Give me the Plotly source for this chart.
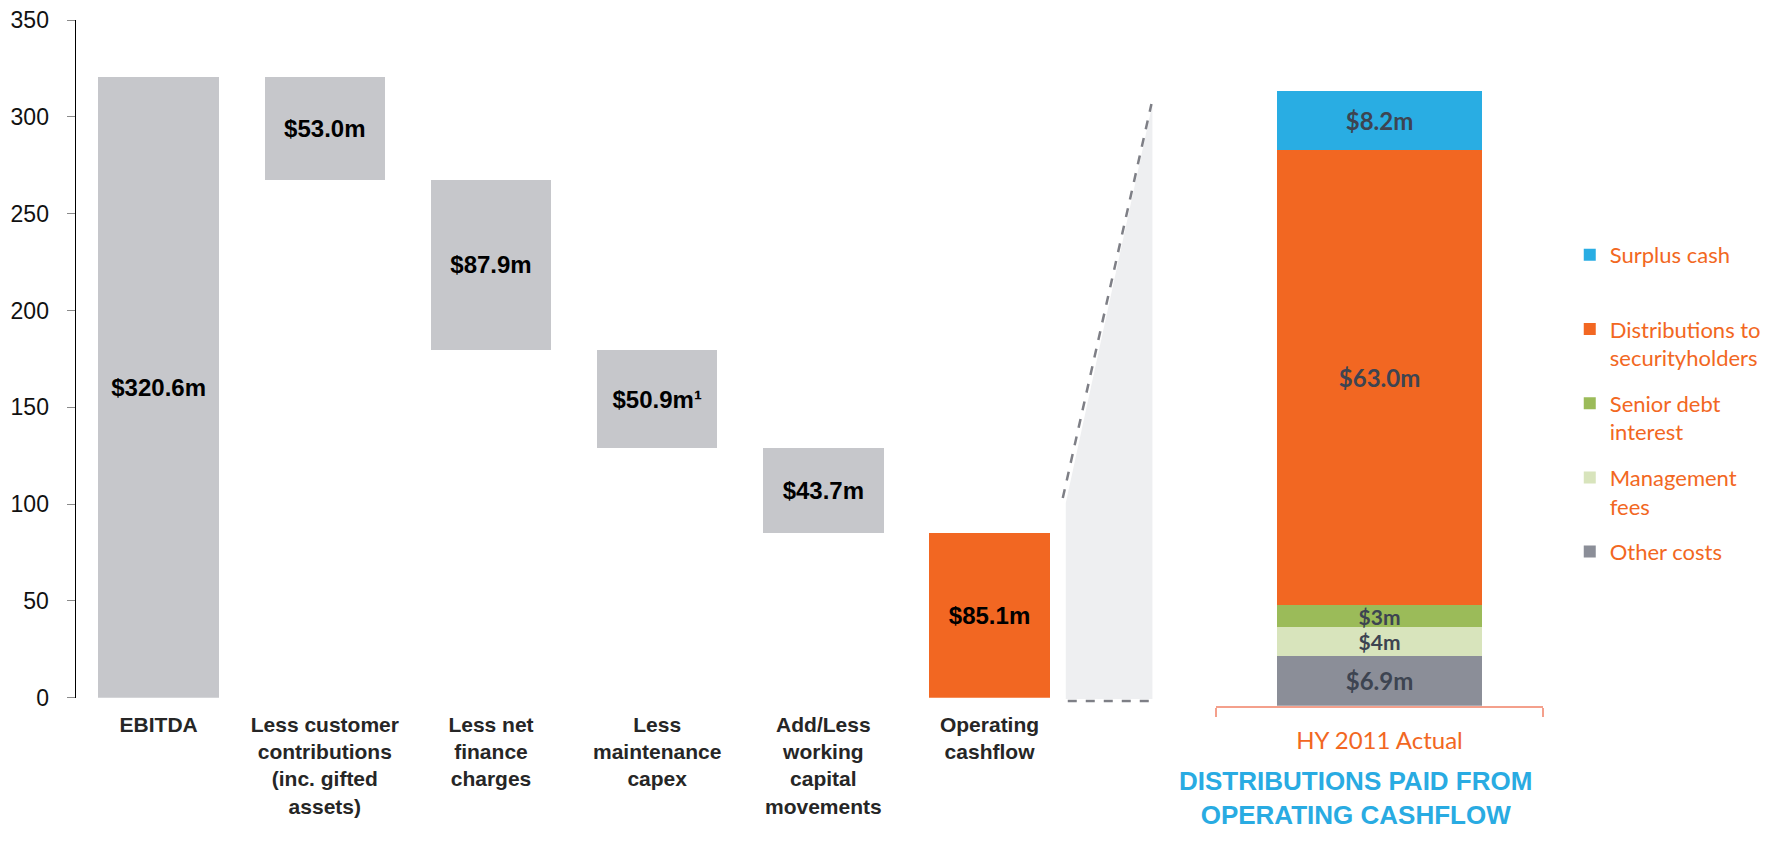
import plotly.graph_objects as go

# ---------------- data ----------------
categories = [
    "EBITDA",
    "Less customer<br>contributions<br>(inc. gifted<br>assets)",
    "Less net<br>finance<br>charges",
    "Less<br>maintenance<br>capex",
    "Add/Less<br>working<br>capital<br>movements",
    "Operating<br>cashflow",
]
values = [320.6, -53.0, -87.9, -50.9, -43.7, 85.1]
kinds = ["total", "delta", "delta", "delta", "delta", "total"]
value_labels = ["$320.6m", "$53.0m", "$87.9m", "$50.9m¹", "$43.7m", "$85.1m"]
y_ticks = [0, 50, 100, 150, 200, 250, 300, 350]

dist_category = ["HY 2011 Actual"]
other_costs = [6.9]
management_fees = [4.0]
senior_debt = [3.0]
distributions = [63.0]
surplus_cash = [8.2]
dist_labels = {
    "other": ["$6.9m"],
    "mgmt": ["$4m"],
    "senior": ["$3m"],
    "dist": ["$63.0m"],
    "surplus": ["$8.2m"],
}
title_lines = ["DISTRIBUTIONS PAID FROM", "OPERATING CASHFLOW"]

# ---------------- styling ----------------
PAGE_W, PAGE_H = 1774, 841
BODY = 8  # default page margin around the figure
W, H = PAGE_W - 2 * BODY, PAGE_H - 2 * BODY
GREY_BAR = "#C6C7CB"
ORANGE = "#F26722"
BLUE = "#29ADE3"
GREEN = "#9BBB59"
LIGHT_GREEN = "#D8E4BC"
SLATE = "#8B8E98"
SALMON = "#F4A08C"
ARIAL = "Liberation Sans, Arial, sans-serif"
CALIBRI = "Lato, Open Sans, sans-serif"


def fx(px):
    return (px - BODY) / W


def fy(py):
    return 1 - (py - BODY) / H


# waterfall bases from the values
bases, heights, colors = [], [], []
running = 0.0
for i, (v, k) in enumerate(zip(values, kinds)):
    if k == "total":
        bases.append(0.0)
        heights.append(v)
        running = v
        colors.append(GREY_BAR if i == 0 else ORANGE)
    else:
        running += v
        bases.append(running)
        heights.append(-v)
        colors.append(GREY_BAR)

fig = go.Figure()

fig.add_trace(go.Bar(
    x=list(range(len(categories))), y=heights, base=bases,
    marker=dict(color=colors, line=dict(width=0)),
    width=0.725,
    text=value_labels, textposition="inside", insidetextanchor="middle",
    textangle=0, constraintext="none",
    textfont=dict(family=ARIAL, size=24, color="#000000", weight="bold"),
    showlegend=False, hoverinfo="skip", xaxis="x", yaxis="y",
))

stack = [
    ("Other costs", other_costs, SLATE, dist_labels["other"], 5, "Other costs<br>\u00a0", 24),
    ("Management fees", management_fees, LIGHT_GREEN, dist_labels["mgmt"], 4, "Management<br>fees", 21),
    ("Senior debt interest", senior_debt, GREEN, dist_labels["senior"], 3, "Senior debt<br>interest", 21),
    ("Distributions", distributions, ORANGE, dist_labels["dist"], 2, "Distributions to<br>securityholders", 24),
    ("Surplus cash", surplus_cash, BLUE, dist_labels["surplus"], 1, "Surplus cash<br>\u00a0", 24),
]
for key, vals, col, lab, rank, legname, fsize in stack:
    fig.add_trace(go.Bar(
        x=dist_category, y=vals, name=legname,
        marker=dict(color=col, line=dict(width=0)),
        width=0.628,
        text=lab, textposition="inside", insidetextanchor="middle",
        textangle=0, constraintext="none",
        textfont=dict(family=CALIBRI, size=fsize, color="#3D4451", weight="bold"),
        legendgroup=key, legendrank=rank,
        hoverinfo="skip", xaxis="x2", yaxis="y2",
    ))

# zoom connector (decoration)
fig.add_shape(type="path", xref="paper", yref="paper",
              path=f"M {fx(1070)} {fy(503)} L {fx(1157)} {fy(104)} L {fx(1157)} {fy(699)} L {fx(1070)} {fy(699)} Z",
              fillcolor="#EEEFF1", line=dict(width=0), layer="below")
fig.add_shape(type="line", xref="paper", yref="paper",
              x0=fx(1067), y0=fy(498), x1=fx(1156), y1=fy(104),
              line=dict(color="#7E7F86", width=2.5, dash="dash"))
fig.add_shape(type="line", xref="paper", yref="paper",
              x0=fx(1072), y0=fy(701), x1=fx(1157), y1=fy(701),
              line=dict(color="#7E7F86", width=2.5, dash="dash"))

fig.add_annotation(
    text="<b>" + "<br>".join(title_lines) + "</b>",
    xref="paper", yref="paper", x=fx(1361), y=fy(832),
    xanchor="center", yanchor="bottom", showarrow=False,
    font=dict(family=ARIAL, size=26, color="#29ABE2"),
)

fig.update_layout(
    width=W, height=H,
    margin=dict(l=0, r=0, t=0, b=0),
    paper_bgcolor="white", plot_bgcolor="white",
    barmode="stack",
    xaxis=dict(
        domain=[fx(75.8), fx(1160.3)], range=[-0.5, 6.0],
        tickmode="array", tickvals=list(range(len(categories))), ticktext=categories,
        showgrid=False, zeroline=False, showline=False, ticks="",
        ticklabelstandoff=12,
        tickfont=dict(family=ARIAL, size=21, color="#262626", weight="bold"),
        automargin=False,
    ),
    yaxis=dict(
        domain=[fy(697.7), fy(20)], range=[0, 350],
        tickmode="array", tickvals=y_ticks,
        showgrid=False, zeroline=False, showline=True, linecolor="#000000", linewidth=1,
        ticks="outside", ticklen=8, tickcolor="#8A8A8A",
        ticklabelstandoff=13, ticklabeloverflow="allow",
        tickfont=dict(family=ARIAL, size=23, color="#111111"),
        automargin=False,
    ),
    xaxis2=dict(
        domain=[fx(1221), fx(1549)], anchor="y2", type="category", range=[-0.5, 0.5],
        showgrid=False, zeroline=False, showline=True, linecolor=SALMON, linewidth=2,
        ticks="outside", tickson="boundaries", ticklen=9, tickwidth=2, tickcolor=SALMON,
        ticklabelstandoff=12,
        tickfont=dict(family=CALIBRI, size=24, color=ORANGE),
        automargin=False,
    ),
    yaxis2=dict(
        domain=[fy(705.7), fy(55.3)], anchor="x2", range=[0, 90], visible=False,
    ),
    legend=dict(
        x=fx(1576), y=fy(234), xanchor="left", yanchor="top",
        font=dict(family=CALIBRI, size=22, color=ORANGE),
        valign="top", traceorder="grouped", tracegroupgap=14,
        bgcolor="rgba(0,0,0,0)",
    ),
)

fig.write_html("out.html")
